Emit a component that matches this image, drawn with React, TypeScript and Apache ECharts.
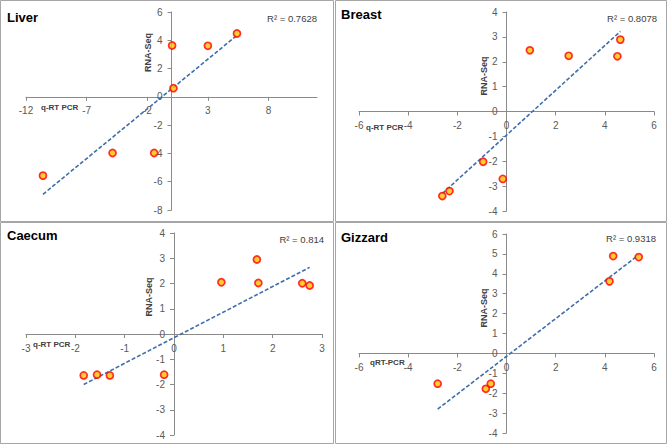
import React, { useEffect, useRef } from "react";
import * as echarts from "echarts";

const panelTitles = ["Liver", "Breast", "Caecum", "Gizzard"];
const xAxisTitles = ["q-RT PCR", "q-RT PCR", "q-RT PCR", "qRT-PCR"];
const yAxisTitle = "RNA-Seq";
const r2Labels = ["R\u00b2 = 0.7628", "R\u00b2 = 0.8078", "R\u00b2 = 0.814", "R\u00b2 = 0.9318"];

const liverQ = [-10.6, -4.86, -1.43, 0.05, 0.16, 3.0, 5.4];
const liverR = [-5.57, -3.97, -3.97, 3.63, 0.61, 3.61, 4.48];
const liverTrendX = [-10.6, 5.4];
const liverTrendY = [-6.89, 4.35];

const breastQ = [-2.61, -2.32, -0.95, -0.15, 0.95, 2.53, 4.51, 4.63];
const breastR = [-3.4, -3.2, -2.02, -2.71, 2.46, 2.24, 2.22, 2.89];
const breastTrendX = [-2.61, 4.63];
const breastTrendY = [-3.3, 3.22];

const caecumQ = [-1.83, -1.56, -1.3, -0.2, 0.96, 1.68, 1.71, 2.6, 2.75];
const caecumR = [-1.64, -1.61, -1.64, -1.61, 2.05, 2.95, 2.02, 2.01, 1.92];
const caecumTrendX = [-1.83, 2.75];
const caecumTrendY = [-2.0, 2.64];

const gizzardQ = [-2.8, -0.84, -0.64, 4.19, 4.34, 5.38];
const gizzardR = [-1.52, -1.78, -1.52, 3.62, 4.89, 4.84];
const gizzardTrendX = [-2.8, 5.38];
const gizzardTrendY = [-2.8, 4.95];

// [min, max, interval]
const xRanges = [
  [-12, 12, 5],
  [-6, 6, 2],
  [-3, 3, 1],
  [-6, 6, 2],
];
const yRanges = [
  [-8, 6, 2],
  [-4, 4, 1],
  [-4, 4, 1],
  [-4, 6, 1],
];

const pointsQ = [liverQ, breastQ, caecumQ, gizzardQ];
const pointsR = [liverR, breastR, caecumR, gizzardR];
const trendX = [liverTrendX, breastTrendX, caecumTrendX, gizzardTrendX];
const trendY = [liverTrendY, breastTrendY, caecumTrendY, gizzardTrendY];

const FONT = "'Liberation Sans', Arial, sans-serif";

export default function App() {
  const ref = useRef<HTMLDivElement>(null);
  useEffect(() => {
    if (!ref.current) return;
    const chart = echarts.init(ref.current, null, { renderer: "svg" });

    const grids = [
      { left: 26, top: 12, width: 291, height: 198 },
      { left: 359, top: 12, width: 295, height: 199 },
      { left: 26, top: 233, width: 296, height: 202 },
      { left: 359, top: 234, width: 295, height: 199 },
    ];

    const lineStyle = { color: "#8a8a8a", width: 1 };
    const axisTick = { show: true, length: 4, lineStyle: { color: "#8a8a8a" } };
    const axisLabel = { color: "#595959", fontSize: 10, fontFamily: FONT };

    const xAxes = xRanges.map((r, i) => {
      const g = grids[i];
      const yr = yRanges[i];
      const zeroFromBottom = (g.height * (0 - yr[0])) / (yr[1] - yr[0]);
      return {
        type: "value",
        gridIndex: i,
        position: "bottom",
        offset: -zeroFromBottom,
        min: r[0],
        max: r[1],
        interval: r[2],
        axisLine: { onZero: false, lineStyle },
        axisTick,
        axisLabel: { ...axisLabel, margin: 9, showMaxLabel: i !== 0 },
        splitLine: { show: false },
      };
    });
    const yAxes = yRanges.map((r, i) => {
      const g = grids[i];
      const xr = xRanges[i];
      const zeroFromLeft = (g.width * (0 - xr[0])) / (xr[1] - xr[0]);
      return {
        type: "value",
        gridIndex: i,
        position: "left",
        offset: -zeroFromLeft,
        min: r[0],
        max: r[1],
        interval: r[2],
        axisLine: { onZero: false, lineStyle },
        axisTick,
        axisLabel: { ...axisLabel, margin: 9 },
        splitLine: { show: false },
      };
    });

    const series: any[] = [];
    for (let i = 0; i < 4; i++) {
      series.push({
        type: "line",
        xAxisIndex: i,
        yAxisIndex: i,
        data: trendX[i].map((x, k) => [x, trendY[i][k]]),
        symbol: "none",
        lineStyle: { color: "#3F6EAA", width: 1.6, type: [4, 2] },
        z: 3,
      });
      series.push({
        type: "scatter",
        xAxisIndex: i,
        yAxisIndex: i,
        data: pointsQ[i].map((x, k) => [x, pointsR[i][k]]),
        symbol: "circle",
        symbolSize: 7,
        itemStyle: { color: "#FFC000", borderColor: "#FF0000", borderWidth: 1.7 },
        z: 4,
      });
    }

    const borders = [
      [0.5, 0.5, 333, 221],
      [335.5, 0.5, 331, 221],
      [0.5, 222.5, 333, 221],
      [335.5, 222.5, 331, 221],
    ];
    const titlePos = [
      [7, 17],
      [341, 14],
      [7, 235],
      [341, 237],
    ];
    const xTitlePos = [
      [41, 107],
      [366, 127],
      [33, 344],
      [370, 362],
    ];
    const yTitlePos = [
      [147.5, 52.5],
      [484, 76],
      [149, 297],
      [484, 308],
    ];
    const r2Pos = [
      [317, 18],
      [657, 18],
      [324, 239],
      [656, 238],
    ];

    const graphic: any[] = [];
    for (let i = 0; i < 4; i++) {
      const b = borders[i];
      graphic.push({
        type: "rect",
        shape: { x: b[0], y: b[1], width: b[2], height: b[3] },
        style: { fill: "none", stroke: "#a6a6a6", lineWidth: 1 },
        silent: true,
        z: 0,
      });
      graphic.push({
        type: "text",
        x: titlePos[i][0],
        y: titlePos[i][1],
        style: {
          text: panelTitles[i],
          font: `bold 13px ${FONT}`,
          fill: "#000000",
          verticalAlign: "middle",
        },
        z: 10,
      });
      graphic.push({
        type: "text",
        x: xTitlePos[i][0],
        y: xTitlePos[i][1],
        style: {
          text: xAxisTitles[i],
          font: `bold 8px ${FONT}`,
          fill: "#404040",
          verticalAlign: "middle",
        },
        z: 10,
      });
      graphic.push({
        type: "text",
        x: yTitlePos[i][0],
        y: yTitlePos[i][1],
        rotation: Math.PI / 2,
        style: {
          text: yAxisTitle,
          font: `bold 9px ${FONT}`,
          fill: "#404040",
          align: "center",
          verticalAlign: "middle",
        },
        z: 10,
      });
      graphic.push({
        type: "text",
        x: r2Pos[i][0],
        y: r2Pos[i][1],
        style: {
          text: r2Labels[i],
          font: `9.5px ${FONT}`,
          fill: "#404040",
          align: "right",
          verticalAlign: "middle",
        },
        z: 10,
      });
    }

    chart.setOption({
      animation: false,
      backgroundColor: "#ffffff",
      grid: grids,
      xAxis: xAxes,
      yAxis: yAxes,
      series,
      graphic,
    });
    return () => chart.dispose();
  }, []);
  return (
    <div
      ref={ref}
      style={{ position: "absolute", left: 0, top: 0, width: 669, height: 445 }}
    />
  );
}
